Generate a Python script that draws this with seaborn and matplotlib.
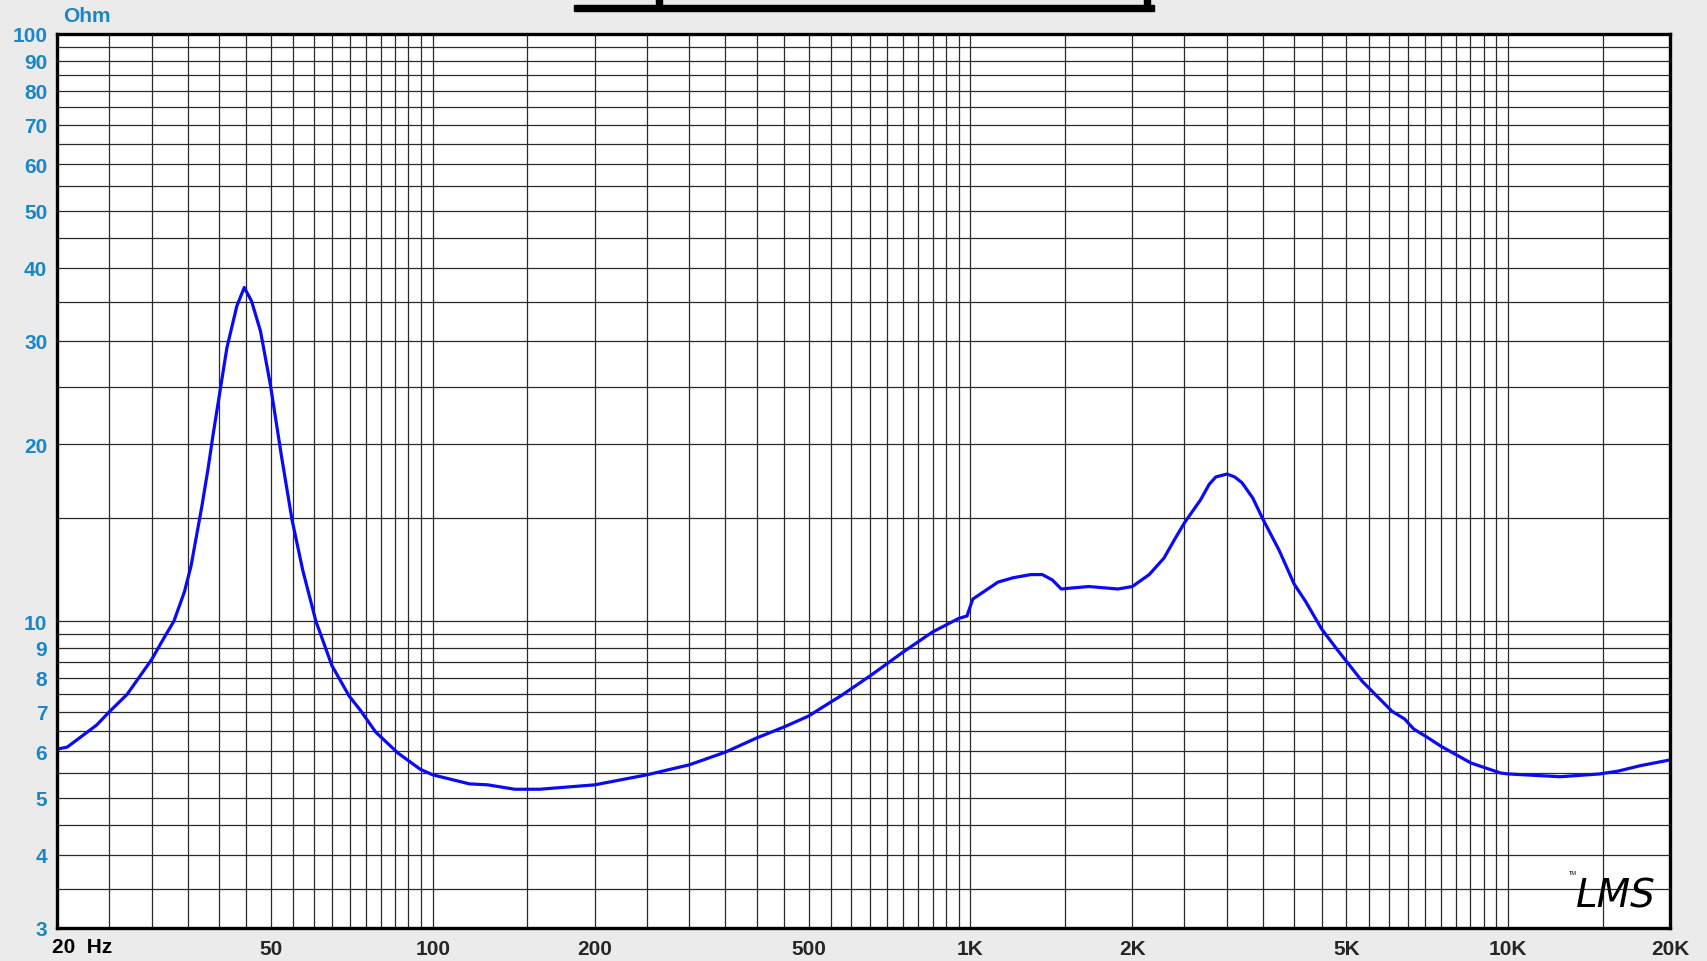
import numpy as np
import pandas as pd
import seaborn as sns
import matplotlib.pyplot as plt
from matplotlib.patches import Rectangle

# impedance curve (Hz, Ohm)
freq = [20, 20.9, 23.7, 25, 27, 30, 31.5, 33, 34.5, 35.5, 37.2, 38.2, 39, 41.4, 43.2, 44.6,
        46.0, 47.8, 49.9, 52.3, 54.7, 57.3, 60.6, 64.9, 69.9, 73.3, 78.3, 86.1,
        94.8, 100, 117, 126.5, 142, 158, 200, 250, 300, 350, 400, 450, 500, 550,
        573, 650, 750, 850, 950, 985, 1010, 1125, 1200, 1295, 1360, 1420, 1475, 1570, 1660,
        1880, 2000, 2150, 2290, 2400, 2500, 2680, 2780, 2860, 3000, 3100, 3200, 3350, 3500,
        3750, 4000, 4200, 4500,
        4800, 5350, 6080, 6420, 6670, 7050, 7500, 8530, 9680, 10000, 12500,
        14800, 16000, 17600, 20000]
ohm = [6.05, 6.1, 6.65, 7.0, 7.5, 8.6, 9.3, 10.0, 11.2, 12.4, 15.7, 18.2, 20.7, 29.2, 34.4, 37.0,
       35.1, 31.2, 25.2, 19.1, 14.9, 12.2, 10.0, 8.4, 7.45, 7.05, 6.47, 5.96,
       5.59, 5.47, 5.28, 5.26, 5.17, 5.17, 5.26, 5.47, 5.69, 5.98, 6.32, 6.60, 6.89, 7.28,
       7.45, 8.06, 8.86, 9.58, 10.1, 10.2, 10.9, 11.65, 11.85, 12.0, 12.0, 11.75, 11.34, 11.4, 11.45,
       11.34, 11.45, 12.0, 12.8, 13.8, 14.7, 16.1, 17.1, 17.6, 17.8, 17.6, 17.2, 16.2, 14.9,
       13.2, 11.56, 10.8, 9.69,
       8.96, 7.9, 7.02, 6.81, 6.55, 6.35, 6.12, 5.73, 5.51, 5.49, 5.43,
       5.49, 5.55, 5.67, 5.80]

x_ticks = [50, 100, 200, 500, 1000, 2000, 5000, 10000, 20000]
x_labels = ["50", "100", "200", "500", "1K", "2K", "5K", "10K", "20K"]
y_ticks = [3, 4, 5, 6, 7, 8, 9, 10, 20, 30, 40, 50, 60, 70, 80, 90, 100]

sns.set_style("white")
plt.rcParams['font.family'] = ['Liberation Sans', 'DejaVu Sans']

BG = "#ebebeb"
BLUE_TXT = "#1a86c8"

fig = plt.figure(figsize=(17.07, 9.62), dpi=100, facecolor=BG)
W, H = 1707, 962
ax = fig.add_axes([57 / W, 1 - 929 / H, (1670 - 57) / W, (929 - 35) / H])
ax.set_facecolor("white")

df = pd.DataFrame({"freq": freq, "ohm": ohm})

ax.set_xscale("log")
ax.set_yscale("log")
ax.set_xlim(20, 20000)
ax.set_ylim(3, 100)

# grid: every half step inside each decade
vgrid = [m * 10 ** d for d in range(1, 5) for m in np.arange(1.0, 10.0, 0.5)]
vgrid = [v for v in vgrid if 20 < v < 20000]
hgrid = [m * 10 ** d for d in range(0, 2) for m in np.arange(1.0, 10.0, 0.5)]
hgrid = [h for h in hgrid if 3 < h < 100]
for v in vgrid:
    ax.axvline(v, color="#2a2a2a", lw=0.9, zorder=1)
for h in hgrid:
    ax.axhline(h, color="#2a2a2a", lw=0.9, zorder=1)

sns.lineplot(data=df, x="freq", y="ohm", ax=ax, color="#0a0af5", lw=2.3,
             estimator=None, sort=False, zorder=3)

ax.set_xticks(x_ticks)
ax.set_xticklabels(x_labels)
ax.set_yticks(y_ticks)
ax.set_yticklabels([str(t) for t in y_ticks])
ax.xaxis.set_minor_locator(plt.NullLocator())
ax.yaxis.set_minor_locator(plt.NullLocator())
ax.tick_params(axis="both", length=0)
ax.tick_params(axis="x", pad=8, labelsize=15)
ax.tick_params(axis="y", pad=7, labelsize=15, labelcolor=BLUE_TXT)
for lab in ax.get_xticklabels() + ax.get_yticklabels():
    lab.set_fontweight("bold")
ax.set_xlabel("")
ax.set_ylabel("")

for s in ax.spines.values():
    s.set_visible(True)
    s.set_color("black")
    s.set_linewidth(2.4)
    s.set_zorder(5)

fig.text(52 / W, 1 - 948 / H, "20  Hz", ha="left", va="center",
         fontsize=15, fontweight="bold", color="black")
fig.text(63 / W, 1 - 17 / H, "Ohm", ha="left", va="center",
         fontsize=15, fontweight="bold", color=BLUE_TXT)

# cut-off box at the top
fig.patches.append(Rectangle((574 / W, 1 - 12 / H), 580 / W, 6.5 / H,
                             transform=fig.transFigure, color="black"))
fig.patches.append(Rectangle((656 / W, 1 - 6 / H), 6 / W, 6 / H,
                             transform=fig.transFigure, color="black"))
fig.patches.append(Rectangle((1144 / W, 1 - 6 / H), 6 / W, 6 / H,
                             transform=fig.transFigure, color="black"))

# logo
fig.text(1616 / W, 1 - 896 / H, "LMS", ha="center", va="center",
         fontsize=28, fontstyle="italic", color="black",
         family=["DejaVu Sans"], zorder=6)
fig.text(1573 / W, 1 - 874 / H, "TM", ha="center", va="center",
         fontsize=4, color="black", zorder=6)

fig.savefig("out.png", dpi=100, facecolor=BG)
